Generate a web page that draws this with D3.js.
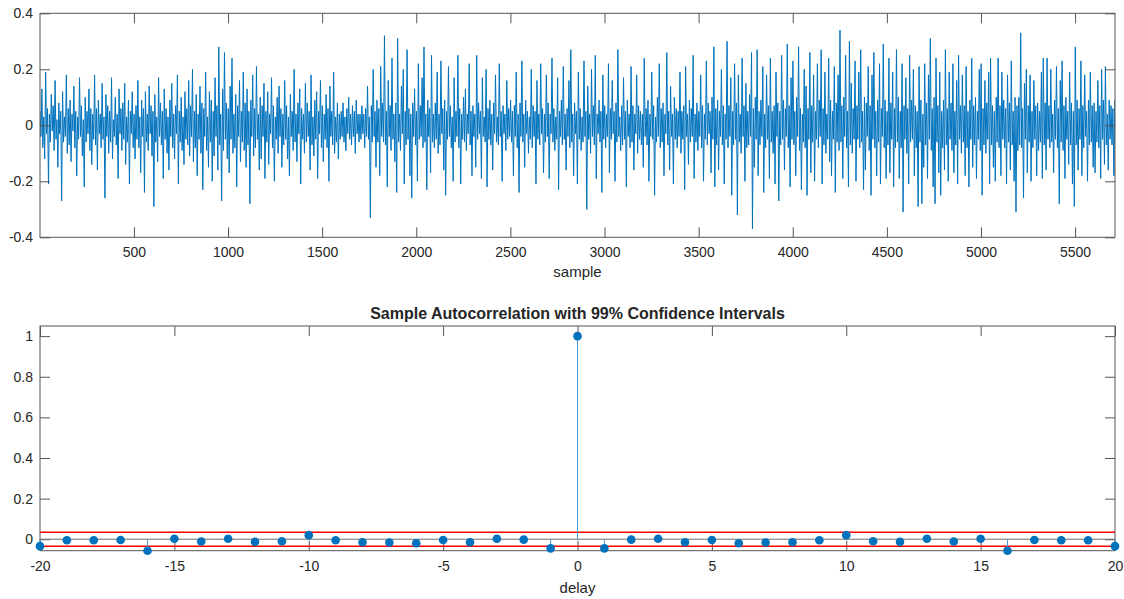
<!DOCTYPE html>
<html>
<head>
<meta charset="utf-8">
<script src="https://cdn.jsdelivr.net/npm/d3@7"></script>
<style>
  body { margin: 0; background: #fff; }
  svg { display: block; }
  text { font-family: "Liberation Sans", Arial, Helvetica, sans-serif; fill: #262626; }
</style>
</head>
<body>
<svg id="chart" width="1124" height="599"></svg>
<script>
// Recorded signal, one stored value every `sampleStep` samples (20 values = 100 samples per row)
const signal = [
  0.05,-0.04,0.13,-0.08,0.03,-0.12,0.19,-0.03,0.06,-0.21,0.04,-0.06,0.11,-0.02,0.07,-0.09,0.16,-0.05,0.02,-0.15,
  0.08,-0.03,0.05,-0.27,0.12,-0.06,0.03,-0.04,0.18,-0.10,0.06,-0.07,0.09,-0.13,0.04,-0.02,0.14,-0.08,0.05,-0.18,
  0.03,-0.05,0.17,-0.04,0.07,-0.11,0.02,-0.22,0.10,-0.06,0.05,-0.03,0.13,-0.09,0.06,-0.14,0.04,-0.05,0.18,-0.07,
  0.06,-0.16,0.09,-0.03,0.04,-0.08,0.15,-0.05,0.03,-0.26,0.11,-0.04,0.07,-0.10,0.05,-0.06,0.17,-0.12,0.02,-0.04,
  0.10,-0.07,0.04,-0.19,0.13,-0.03,0.06,-0.09,0.08,-0.05,0.15,-0.14,0.03,-0.06,0.09,-0.21,0.05,-0.03,0.12,-0.08,
  0.04,-0.12,0.07,-0.05,0.16,-0.08,0.03,-0.17,0.09,-0.04,0.06,-0.24,0.12,-0.06,0.04,-0.09,0.14,-0.03,0.07,-0.11,
  0.05,-0.29,0.11,-0.06,0.03,-0.13,0.17,-0.04,0.08,-0.07,0.05,-0.19,0.13,-0.05,0.06,-0.10,0.03,-0.16,0.09,-0.04,
  0.15,-0.08,0.04,-0.12,0.07,-0.03,0.18,-0.21,0.05,-0.06,0.10,-0.09,0.03,-0.14,0.12,-0.05,0.06,-0.07,0.16,-0.11,
  0.07,-0.04,0.20,-0.13,0.05,-0.08,0.11,-0.18,0.04,-0.05,0.14,-0.10,0.08,-0.23,0.06,-0.04,0.19,-0.09,0.03,-0.15,
  0.12,-0.06,0.09,-0.20,0.05,-0.11,0.17,-0.04,0.07,-0.16,0.28,-0.07,0.04,-0.27,0.13,-0.09,0.26,-0.05,0.08,-0.12,
  0.06,-0.17,0.14,-0.05,0.24,-0.10,0.04,-0.08,0.11,-0.22,0.07,-0.04,0.16,-0.13,0.05,-0.06,0.19,-0.09,0.08,-0.15,
  0.13,-0.07,0.05,-0.28,0.09,-0.04,0.18,-0.11,0.06,-0.08,0.21,-0.05,0.04,-0.16,0.10,-0.12,0.07,-0.04,0.15,-0.19,
  0.05,-0.06,0.12,-0.14,0.04,-0.03,0.17,-0.08,0.07,-0.20,0.03,-0.05,0.10,-0.10,0.14,-0.04,0.06,-0.15,0.04,-0.07,
  0.16,-0.05,0.07,-0.12,0.03,-0.18,0.11,-0.04,0.05,-0.09,0.20,-0.06,0.04,-0.13,0.08,-0.03,0.13,-0.21,0.06,-0.05,
  0.04,-0.10,0.15,-0.06,0.08,-0.04,0.05,-0.16,0.18,-0.07,0.03,-0.11,0.09,-0.05,0.12,-0.19,0.05,-0.03,0.16,-0.08,
  0.07,-0.13,0.04,-0.05,0.11,-0.08,0.06,-0.20,0.14,-0.04,0.05,-0.07,0.19,-0.10,0.03,-0.06,0.08,-0.12,0.04,-0.05,
  0.05,-0.04,0.08,-0.06,0.03,-0.09,0.06,-0.03,0.10,-0.05,0.04,-0.07,0.07,-0.04,0.05,-0.10,0.09,-0.03,0.04,-0.06,
  0.04,-0.05,0.07,-0.03,0.04,-0.08,0.06,-0.04,0.14,-0.05,0.03,-0.33,0.07,-0.06,0.20,-0.04,0.05,-0.15,0.09,-0.06,
  0.06,-0.18,0.21,-0.04,0.08,-0.06,0.32,-0.07,0.05,-0.22,0.16,-0.04,0.07,-0.09,0.24,-0.05,0.04,-0.13,0.08,-0.24,
  0.31,-0.06,0.04,-0.09,0.14,-0.03,0.20,-0.21,0.05,-0.07,0.27,-0.05,0.06,-0.18,0.04,-0.26,0.08,-0.04,0.13,-0.07,
  0.05,-0.20,0.22,-0.05,0.07,-0.04,0.17,-0.08,0.28,-0.06,0.04,-0.23,0.09,-0.04,0.06,-0.17,0.25,-0.06,0.04,-0.08,
  0.08,-0.05,0.19,-0.10,0.04,-0.07,0.23,-0.03,0.06,-0.16,0.09,-0.25,0.05,-0.05,0.21,-0.04,0.07,-0.08,0.03,-0.20,
  0.17,-0.06,0.05,-0.04,0.25,-0.08,0.06,-0.21,0.04,-0.05,0.10,-0.06,0.13,-0.09,0.04,-0.03,0.22,-0.07,0.05,-0.18,
  0.07,-0.04,0.04,-0.15,0.25,-0.05,0.08,-0.03,0.05,-0.19,0.17,-0.04,0.03,-0.06,0.20,-0.22,0.06,-0.05,0.09,-0.07,
  0.04,-0.16,0.08,-0.03,0.18,-0.06,0.03,-0.07,0.22,-0.04,0.05,-0.20,0.07,-0.03,0.04,-0.09,0.16,-0.05,0.06,-0.04,
  0.09,-0.06,0.05,-0.18,0.07,-0.04,0.19,-0.08,0.04,-0.24,0.08,-0.04,0.23,-0.06,0.04,-0.15,0.09,-0.03,0.05,-0.10,
  0.03,-0.05,0.20,-0.08,0.07,-0.04,0.05,-0.21,0.16,-0.05,0.04,-0.07,0.22,-0.03,0.06,-0.17,0.04,-0.06,0.18,-0.04,
  0.08,-0.19,0.04,-0.03,0.24,-0.06,0.06,-0.09,0.03,-0.05,0.17,-0.23,0.05,-0.04,0.09,-0.07,0.21,-0.05,0.04,-0.16,
  0.06,-0.04,0.16,-0.08,0.27,-0.06,0.04,-0.18,0.08,-0.03,0.05,-0.21,0.19,-0.05,0.06,-0.09,0.03,-0.06,0.23,-0.04,
  0.05,-0.30,0.14,-0.05,0.04,-0.10,0.20,-0.04,0.07,-0.07,0.25,-0.19,0.04,-0.03,0.09,-0.06,0.05,-0.24,0.18,-0.05,
  0.07,-0.08,0.04,-0.04,0.22,-0.17,0.06,-0.05,0.16,-0.03,0.05,-0.20,0.08,-0.06,0.27,-0.04,0.03,-0.09,0.07,-0.07,
  0.17,-0.05,0.05,-0.22,0.09,-0.04,0.04,-0.08,0.21,-0.06,0.07,-0.16,0.04,-0.03,0.18,-0.10,0.07,-0.05,0.05,-0.07,
  0.04,-0.15,0.24,-0.04,0.06,-0.07,0.09,-0.20,0.04,-0.04,0.19,-0.05,0.07,-0.25,0.03,-0.06,0.10,-0.04,0.22,-0.08,
  0.06,-0.06,0.08,-0.18,0.04,-0.03,0.26,-0.07,0.05,-0.16,0.14,-0.04,0.04,-0.21,0.10,-0.05,0.06,-0.08,0.05,-0.04,
  0.19,-0.10,0.05,-0.05,0.07,-0.23,0.21,-0.04,0.04,-0.14,0.09,-0.06,0.06,-0.04,0.25,-0.19,0.04,-0.06,0.08,-0.09,
  0.05,-0.04,0.18,-0.08,0.07,-0.20,0.04,-0.05,0.23,-0.07,0.08,-0.03,0.05,-0.17,0.10,-0.05,0.28,-0.22,0.06,-0.07,
  0.09,-0.16,0.05,-0.04,0.20,-0.07,0.07,-0.21,0.04,-0.05,0.30,-0.08,0.07,-0.04,0.17,-0.25,0.05,-0.07,0.22,-0.05,
  0.08,-0.32,0.18,-0.06,0.04,-0.10,0.24,-0.04,0.07,-0.20,0.15,-0.08,0.05,-0.07,0.11,-0.04,0.26,-0.37,0.06,-0.15,
  0.10,-0.05,0.27,-0.18,0.05,-0.07,0.09,-0.04,0.21,-0.24,0.04,-0.08,0.18,-0.05,0.07,-0.19,0.24,-0.06,0.05,-0.10,
  0.07,-0.21,0.19,-0.04,0.08,-0.27,0.05,-0.07,0.25,-0.05,0.09,-0.16,0.06,-0.04,0.29,-0.08,0.07,-0.22,0.17,-0.05,
  0.23,-0.07,0.05,-0.18,0.10,-0.04,0.28,-0.09,0.06,-0.23,0.04,-0.06,0.20,-0.08,0.14,-0.25,0.06,-0.05,0.26,-0.17,
  0.07,-0.06,0.18,-0.20,0.05,-0.05,0.22,-0.08,0.09,-0.04,0.27,-0.21,0.06,-0.07,0.19,-0.10,0.04,-0.05,0.24,-0.13,
  0.09,-0.18,0.05,-0.05,0.21,-0.24,0.08,-0.06,0.18,-0.09,0.34,-0.06,0.07,-0.19,0.10,-0.04,0.25,-0.08,0.05,-0.22,
  0.30,-0.07,0.15,-0.10,0.06,-0.05,0.23,-0.20,0.07,-0.05,0.19,-0.08,0.27,-0.06,0.05,-0.23,0.10,-0.16,0.08,-0.04,
  0.21,-0.09,0.07,-0.25,0.18,-0.05,0.26,-0.08,0.05,-0.18,0.09,-0.06,0.22,-0.21,0.06,-0.04,0.29,-0.08,0.09,-0.19,
  0.05,-0.07,0.24,-0.17,0.08,-0.05,0.19,-0.22,0.06,-0.08,0.27,-0.06,0.10,-0.19,0.05,-0.08,0.22,-0.31,0.07,-0.05,
  0.17,-0.10,0.06,-0.21,0.25,-0.06,0.09,-0.05,0.20,-0.18,0.07,-0.08,0.05,-0.29,0.21,-0.06,0.09,-0.28,0.04,-0.15,
  0.22,-0.07,0.08,-0.19,0.18,-0.05,0.31,-0.09,0.06,-0.22,0.10,-0.28,0.24,-0.06,0.07,-0.17,0.19,-0.25,0.05,-0.08,
  0.09,-0.16,0.27,-0.07,0.06,-0.20,0.19,-0.05,0.08,-0.09,0.22,-0.17,0.05,-0.07,0.16,-0.21,0.25,-0.05,0.07,-0.10,
  0.18,-0.06,0.07,-0.18,0.21,-0.08,0.05,-0.22,0.09,-0.05,0.24,-0.15,0.07,-0.07,0.10,-0.19,0.05,-0.05,0.20,-0.09,
  0.22,-0.25,0.06,-0.07,0.16,-0.10,0.08,-0.05,0.19,-0.21,0.24,-0.07,0.07,-0.15,0.05,-0.20,0.10,-0.06,0.24,-0.08,
  0.07,-0.18,0.19,-0.05,0.09,-0.08,0.06,-0.21,0.18,-0.06,0.08,-0.16,0.23,-0.07,0.05,-0.20,0.10,-0.31,0.07,-0.09,
  0.10,-0.07,0.33,-0.08,0.06,-0.26,0.15,-0.05,0.20,-0.17,0.07,-0.06,0.18,-0.20,0.05,-0.08,0.16,-0.05,0.07,-0.18,
  0.08,-0.09,0.05,-0.06,0.19,-0.19,0.24,-0.07,0.08,-0.16,0.24,-0.05,0.07,-0.08,0.20,-0.06,0.04,-0.17,0.09,-0.05,
  0.21,-0.08,0.06,-0.28,0.16,-0.06,0.23,-0.09,0.07,-0.19,0.10,-0.05,0.05,-0.14,0.19,-0.07,0.08,-0.21,0.05,-0.29,
  0.28,-0.07,0.09,-0.16,0.06,-0.05,0.23,-0.18,0.07,-0.08,0.18,-0.04,0.05,-0.20,0.09,-0.07,0.19,-0.06,0.07,-0.15,
  0.08,-0.17,0.05,-0.06,0.16,-0.08,0.07,-0.19,0.20,-0.05,0.09,-0.14,0.21,-0.07,0.04,-0.16,0.09,-0.05,0.07,-0.07,
  0.06,-0.18,0.09
];
const sampleStep = 5;
const sampleCount = 5712;
const sampleTicks = [500, 1000, 1500, 2000, 2500, 3000, 3500, 4000, 4500, 5000, 5500];
const signalTicks = [-0.4, -0.2, 0, 0.2, 0.4];

// Sample autocorrelation by delay
const lags = [-20,-19,-18,-17,-16,-15,-14,-13,-12,-11,-10,-9,-8,-7,-6,-5,-4,-3,-2,-1,
              0,1,2,3,4,5,6,7,8,9,10,11,12,13,14,15,16,17,18,19,20];
const acf = [-0.034,-0.005,-0.005,-0.004,-0.0565,0.002,-0.011,0.002,-0.013,-0.010,
             0.020,-0.005,-0.015,-0.016,-0.020,-0.004,-0.015,0.002,-0.002,-0.045,
             1,
             -0.045,-0.002,0.002,-0.015,-0.004,-0.020,-0.016,-0.015,-0.005,0.020,
             -0.010,-0.013,0.002,-0.011,0.002,-0.0565,-0.004,-0.005,-0.005,-0.034];
const confBound = 0.034;   // 99% bounds
const lagTicks = [-20, -15, -10, -5, 0, 5, 10, 15, 20];
const acfTicks = [0, 0.2, 0.4, 0.6, 0.8, 1];

const blue = "#0072BD";
const frameColor = "#555555";
const svg = d3.select("#chart");

const left = 40, right = 1115;
const top1 = 13.3, bottom1 = 237.3;
const top2 = 326, bottom2 = 550.7;
const tickLen = 10;
const fmt = d => String(d);

function frame(g, x0, x1, y0, y1) {
  g.append("rect")
    .attr("x", x0).attr("y", y0)
    .attr("width", x1 - x0).attr("height", y1 - y0)
    .attr("fill", "none").attr("stroke", frameColor).attr("stroke-width", 1);
}

function styleAxis(g) {
  g.select(".domain").remove();
  g.selectAll(".tick line").attr("stroke", frameColor).attr("stroke-width", 1);
  g.selectAll(".tick text").attr("fill", "#262626").style("font-size", "14px")
    .style("font-family", '"Liberation Sans", Arial, sans-serif');
}

function drawAxes(g, x, y, xTicks, yTicks, y0, y1) {
  g.append("g").attr("transform", `translate(0,${y1})`)
    .call(d3.axisBottom(x).tickValues(xTicks).tickFormat(fmt)
      .tickSizeInner(-tickLen).tickSizeOuter(0).tickPadding(10))
    .call(styleAxis);
  g.append("g").attr("transform", `translate(0,${y0})`)
    .call(d3.axisTop(x).tickValues(xTicks).tickFormat("")
      .tickSizeInner(-tickLen).tickSizeOuter(0))
    .call(styleAxis);
  g.append("g").attr("transform", `translate(${left},0)`)
    .call(d3.axisLeft(y).tickValues(yTicks).tickFormat(fmt)
      .tickSizeInner(-tickLen).tickSizeOuter(0).tickPadding(7))
    .call(styleAxis);
  g.append("g").attr("transform", `translate(${right},0)`)
    .call(d3.axisRight(y).tickValues(yTicks).tickFormat("")
      .tickSizeInner(-tickLen).tickSizeOuter(0))
    .call(styleAxis);
}

// ---- Top panel: raw signal ----
const x1 = d3.scaleLinear().domain([1, sampleCount]).range([left, right]);
const y1 = d3.scaleLinear().domain([-0.4, 0.4]).range([bottom1, top1]);

const g1 = svg.append("g");
svg.append("defs").append("clipPath").attr("id", "clipTop")
  .append("rect").attr("x", left).attr("y", top1)
  .attr("width", right - left).attr("height", bottom1 - top1);

const line = d3.line()
  .x((d, i) => x1(1 + i * sampleStep))
  .y(d => y1(d));

g1.append("path")
  .datum(signal)
  .attr("clip-path", "url(#clipTop)")
  .attr("d", line)
  .attr("fill", "none")
  .attr("stroke", blue)
  .attr("stroke-width", 1)
  .attr("stroke-linejoin", "bevel");

drawAxes(g1, x1, y1, sampleTicks, signalTicks, top1, bottom1);
frame(g1, left, right, top1, bottom1);

g1.append("text")
  .attr("x", (left + right) / 2).attr("y", 277)
  .attr("text-anchor", "middle")
  .style("font-size", "15px")
  .text("sample");

// ---- Bottom panel: autocorrelation ----
const x2 = d3.scaleLinear().domain([-20, 20]).range([left, right]);
const y2 = d3.scaleLinear().domain([d3.min(acf), 1.05]).range([bottom2, top2]);

const g2 = svg.append("g");
drawAxes(g2, x2, y2, lagTicks, acfTicks, top2, bottom2);
frame(g2, left, right, top2, bottom2);

// zero baseline
g2.append("line")
  .attr("x1", left).attr("x2", right)
  .attr("y1", y2(0)).attr("y2", y2(0))
  .attr("stroke", "#707070").attr("stroke-width", 1);

// confidence bounds
[confBound, -confBound].forEach(b => {
  g2.append("line")
    .attr("x1", left).attr("x2", right)
    .attr("y1", y2(b)).attr("y2", y2(b))
    .attr("stroke", "#ff0000").attr("stroke-width", 1.5);
});

const pts = lags.map((l, i) => ({ lag: l, r: acf[i] }));

// stems
g2.selectAll("line.stem").data(pts).join("line")
  .attr("class", "stem")
  .attr("x1", d => x2(d.lag)).attr("x2", d => x2(d.lag))
  .attr("y1", y2(0)).attr("y2", d => y2(d.r))
  .attr("stroke", "#4a9bd8").attr("stroke-width", 1);

// markers
g2.selectAll("circle.pt").data(pts).join("circle")
  .attr("class", "pt")
  .attr("cx", d => x2(d.lag)).attr("cy", d => y2(d.r))
  .attr("r", 4.3)
  .attr("fill", blue);

g2.append("text")
  .attr("x", (left + right) / 2).attr("y", 319)
  .attr("text-anchor", "middle")
  .style("font-size", "16px").style("font-weight", "bold")
  .text("Sample Autocorrelation with 99% Confidence Intervals");

g2.append("text")
  .attr("x", (left + right) / 2).attr("y", 593)
  .attr("text-anchor", "middle")
  .style("font-size", "15px")
  .text("delay");
</script>
</body>
</html>
